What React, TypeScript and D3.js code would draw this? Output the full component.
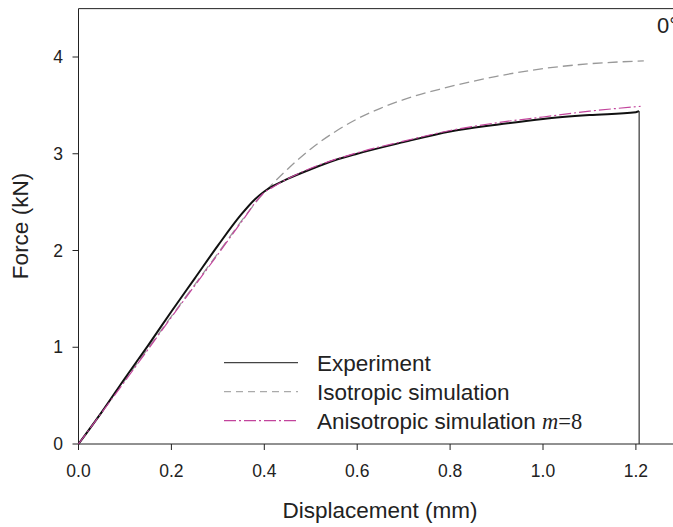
import React from "react";
import * as d3 from "d3";

const xTicks = [0, 0.2, 0.4, 0.6, 0.8, 1.0, 1.2];
const yTicks = [0, 1, 2, 3, 4];

const expD = [0, 0.05, 0.1, 0.15, 0.2, 0.25, 0.3, 0.35, 0.38, 0.4, 0.42, 0.45, 0.5, 0.55, 0.6, 0.7, 0.8, 0.9, 1.0, 1.1, 1.2, 1.207, 1.207];
const expF = [0, 0.33, 0.68, 1.02, 1.37, 1.71, 2.05, 2.37, 2.53, 2.61, 2.67, 2.74, 2.84, 2.93, 3.0, 3.12, 3.23, 3.3, 3.36, 3.4, 3.43, 3.44, 0];

const isoD = [0, 0.1, 0.2, 0.3, 0.35, 0.4, 0.42, 0.45, 0.5, 0.55, 0.6, 0.65, 0.7, 0.78, 0.85, 0.9, 1.0, 1.1, 1.217];
const isoF = [0, 0.66, 1.32, 1.97, 2.3, 2.6, 2.7, 2.84, 3.05, 3.22, 3.36, 3.47, 3.56, 3.67, 3.75, 3.8, 3.88, 3.93, 3.96];

const aniD = [0, 0.1, 0.2, 0.3, 0.35, 0.4, 0.42, 0.45, 0.5, 0.6, 0.7, 0.8, 0.9, 1.0, 1.1, 1.21];
const aniF = [0, 0.65, 1.31, 1.96, 2.29, 2.6, 2.66, 2.74, 2.85, 3.01, 3.13, 3.24, 3.32, 3.38, 3.44, 3.49];

const legendLabels = ["Experiment", "Isotropic simulation", "Anisotropic simulation "];

export default function App() {
  const W = 673, H = 527;
  const x = d3.scaleLinear().domain([0, 1.3]).range([78.5, 78.5 + 464.5 * 1.3]);
  const y = d3.scaleLinear().domain([0, 4.5]).range([444, 444 - 96.75 * 4.5]);
  const line = d3.line<[number, number]>().x(d => x(d[0])).y(d => y(d[1]));
  const curve = d3.line<[number, number]>().x(d => x(d[0])).y(d => y(d[1])).curve(d3.curveMonotoneX);
  const zip = (a: number[], b: number[]) => a.map((v, i) => [v, b[i]] as [number, number]);
  const exp = zip(expD, expF);
  const expMain = exp.slice(0, exp.length - 1);
  const expLast = exp.slice(exp.length - 2);
  const font = "'Liberation Sans', Arial, sans-serif";
  const x0 = x(0), yTop = y(4.5), yBot = y(0);
  const magenta = "#c2449c";
  return (
    <svg width={W} height={H} style={{ position: "absolute", left: 0, top: 0 }} fontFamily={font}>
      <rect width={W} height={H} fill="#fff" />
      <line x1={x0} x2={W} y1={yTop} y2={yTop} stroke="#222" strokeWidth={1} />
      <line x1={x0} x2={x0} y1={yTop} y2={yBot} stroke="#222" strokeWidth={1} />
      <line x1={x0} x2={W} y1={yBot} y2={yBot} stroke="#222" strokeWidth={1} />
      {xTicks.map(t => (
        <g key={"x" + t}>
          <line x1={x(t)} x2={x(t)} y1={yBot} y2={yBot + 6} stroke="#222" />
          <text x={x(t)} y={477} fontSize={17.5} textAnchor="middle" fill="#222">{t.toFixed(1)}</text>
        </g>
      ))}
      {yTicks.map(t => (
        <g key={"y" + t}>
          <line x1={x0 - 6} x2={x0} y1={y(t)} y2={y(t)} stroke="#222" />
          <text x={63} y={y(t) + 6} fontSize={17.5} textAnchor="end" fill="#222">{t}</text>
        </g>
      ))}
      <path d={curve(zip(isoD, isoF)) || ""} fill="none" stroke="#999" strokeWidth={1.3} strokeDasharray="10 5" />
      <path d={curve(expMain) || ""} fill="none" stroke="#111" strokeWidth={2} />
      <path d={line(expLast) || ""} fill="none" stroke="#333" strokeWidth={1.2} />
      <path d={curve(zip(aniD, aniF)) || ""} fill="none" stroke={magenta} strokeWidth={1.2} strokeDasharray="12 3 2 3" />
      {legendLabels.map((l, i) => {
        const ly = 362.7 + i * 29;
        return (
          <g key={l}>
            <line x1={224} x2={298} y1={ly} y2={ly}
              stroke={i === 0 ? "#444" : i === 1 ? "#aaa" : magenta}
              strokeWidth={1.2}
              strokeDasharray={i === 0 ? undefined : i === 1 ? "7 5" : "12 3 2 3"} />
            <text x={317} y={ly + 8} fontSize={22.5} fill="#222">
              {l}
              {i === 2 ? <tspan fontFamily="'Liberation Serif', 'Times New Roman', serif" fontStyle="italic">m</tspan> : null}
              {i === 2 ? <tspan fontFamily="'Liberation Serif', 'Times New Roman', serif">=8</tspan> : null}
            </text>
          </g>
        );
      })}
      <text x={657} y={33} fontSize={22} fill="#222">0°</text>
      <text x={380} y={518} fontSize={22.5} textAnchor="middle" fill="#222">Displacement (mm)</text>
      <text transform="translate(28,226) rotate(-90)" fontSize={22.5} textAnchor="middle" fill="#222">Force (kN)</text>
    </svg>
  );
}
